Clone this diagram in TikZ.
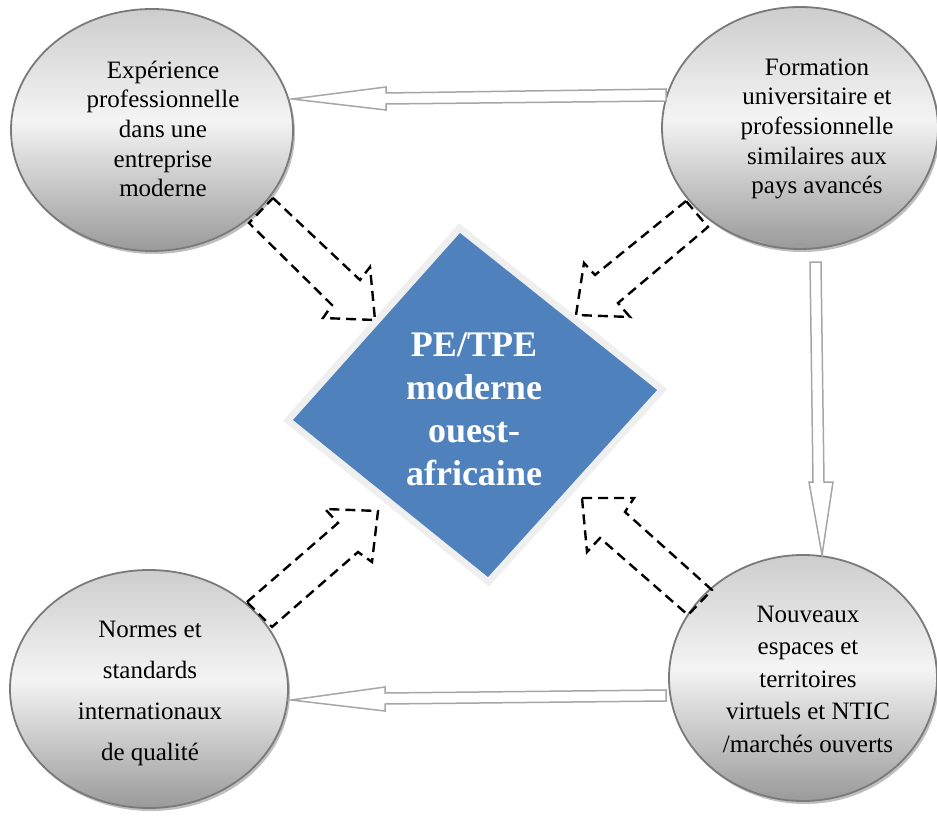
\documentclass[tikz,border=0pt]{standalone}
\usepackage{fontspec}
\setmainfont{Liberation Serif}
\usetikzlibrary{shapes.geometric}
\definecolor{pblue}{HTML}{4F81BD}
\definecolor{cborder}{HTML}{7A7A7A}
\definecolor{agray}{HTML}{A6A6A6}
\definecolor{cdark}{HTML}{9A9A9A}
\definecolor{clight}{HTML}{F4F4F4}
\definecolor{ctop}{HTML}{CDCDCD}
\definecolor{dframe}{HTML}{EFEFEF}
\definecolor{dedge}{HTML}{9AAAC2}
\pgfdeclareverticalshading{circshade}{100bp}{color(0bp)=(cdark); color(25bp)=(cdark); color(52bp)=(clight); color(75bp)=(ctop); color(100bp)=(ctop)}
\tikzset{
  bubble/.style={ellipse, draw=cborder, line width=1.8pt, shading=circshade, inner sep=0pt},
  shadowbubble/.style={ellipse, fill=black!25, inner sep=0pt},
  bubbletext/.style={align=center, font=\fontsize{25}{29.7}\selectfont, inner sep=0pt},
  hollow/.style={draw=agray, line width=1.5pt, fill=white, line join=miter},
  dasharrow/.style={draw=black, line width=2.4pt, dash pattern=on 10pt off 6pt, line join=miter},
  centertext/.style={align=center, text=white, font=\bfseries\fontsize{36}{43}\selectfont, inner sep=0pt}
}
\begin{document}
\begin{tikzpicture}[x=1pt,y=-1pt]
\useasboundingbox (0,0) rectangle (937,821);
% shadows
\node[shadowbubble, minimum width=282pt, minimum height=242pt] at (154,133) {};
\node[shadowbubble, minimum width=276pt, minimum height=242pt] at (802,131) {};
\node[shadowbubble, minimum width=278pt, minimum height=238pt] at (151,692) {};
\node[shadowbubble, minimum width=268pt, minimum height=246pt] at (805,681) {};
% circles
\node[bubble, minimum width=282pt, minimum height=242pt] (TL) at (152,130) {};
\node[bubble, minimum width=276pt, minimum height=242pt] (TR) at (800,128) {};
\node[bubble, minimum width=278pt, minimum height=238pt] (BL) at (149,689) {};
\node[bubble, minimum width=268pt, minimum height=246pt] (BR) at (803,678) {};
\node[bubbletext] (TLt) at (163,129) {Expérience\\professionnelle\\dans une\\entreprise\\moderne};
\node[bubbletext] (TRt) at (817,129) {Formation\\universitaire et\\professionnelle\\similaires aux\\pays avancés};
\node[bubbletext, font=\fontsize{25}{41}\selectfont] (BLt) at (150,693) {Normes et\\standards\\internationaux\\de qualité};
\node[bubbletext, font=\fontsize{25}{32.5}\selectfont] (BRt) at (808,679) {Nouveaux\\espaces et\\territoires\\virtuels et NTIC\\/marchés ouverts};
% diamond
\coordinate (dT) at (460,233);
\coordinate (dL) at (293,420);
\coordinate (dB) at (488,577);
\coordinate (dR) at (657,390);
\draw[dedge, line width=3pt] ([shift={(-2,4)}]dL) -- ([shift={(0,5)}]dB) -- ([shift={(4,2)}]dR);
\draw[dframe, line width=14pt, line join=miter] (dT) -- (dL) -- (dB) -- (dR) -- cycle;
\fill[pblue] (dT) -- (dL) -- (dB) -- (dR) -- cycle;
\node[centertext] (D) at (474,409) {PE/TPE\\moderne\\ouest-\\africaine};
% hollow arrows
\coordinate (a1t) at (292,99);
\draw[hollow] (666,89) -- (666,101) -- (386,104) -- (386,110) -- (a1t) -- (386,87) -- (386,93) -- cycle;
\coordinate (a2t) at (822,555);
\draw[hollow] (810,262) -- (821,262) -- (824,482) -- (833,482) -- (a2t) -- (809,482) -- (813,482) -- cycle;
\coordinate (a3t) at (291,700);
\draw[hollow] (666,690) -- (666,701) -- (385,704) -- (385,711) -- (a3t) -- (385,687) -- (385,693) -- cycle;
% dashed block arrows
\coordinate (b1t) at (375,320);
\draw[dasharrow] (273,198) -- (360,280) -- (370,267) -- (b1t) -- (323,318) -- (332,305) -- (249,223) -- cycle;
\coordinate (b2t) at (576,315);
\draw[dasharrow] (686,201) -- (595,275) -- (584,263) -- (b2t) -- (630,317) -- (618,303) -- (708,227) -- cycle;
\coordinate (b3t) at (378,511);
\draw[dasharrow] (247,602) -- (338,523) -- (325,509) -- (b3t) -- (372,562) -- (358,552) -- (272,627) -- cycle;
\coordinate (b4t) at (582,498);
\draw[dasharrow] (b4t) -- (634,498) -- (625,512) -- (712,590) -- (688,615) -- (600,538) -- (587,552) -- cycle;
\end{tikzpicture}
\end{document}
